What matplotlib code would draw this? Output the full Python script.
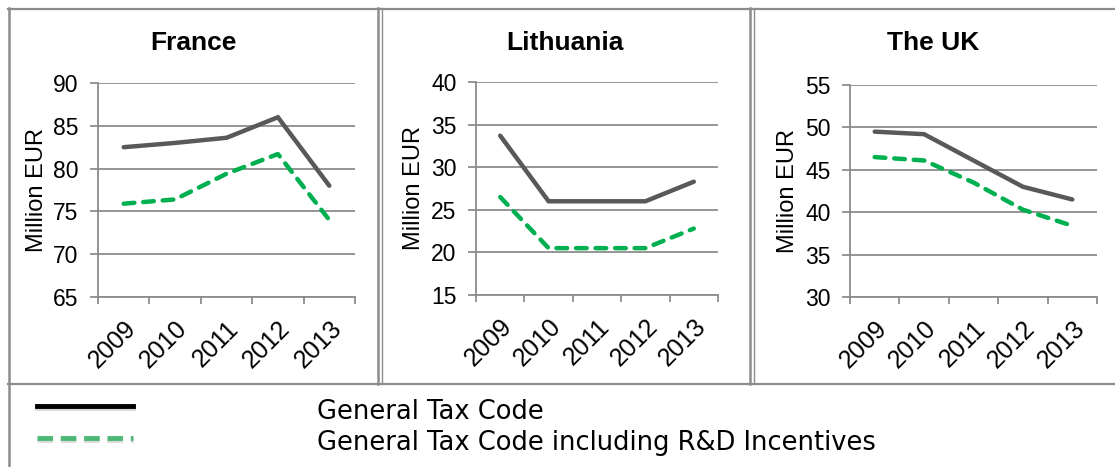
import matplotlib.pyplot as plt
import matplotlib.patheffects as pe
from matplotlib.lines import Line2D

years = ['2009', '2010', '2011', '2012', '2013']

countries = ['France', 'Lithuania', 'The UK']
general_fr = [82.5, 83.0, 83.6, 86.0, 78.0]
incent_fr = [75.9, 76.4, 79.4, 81.7, 74.0]
general_lt = [33.7, 26.0, 26.0, 26.0, 28.3]
incent_lt = [26.5, 20.5, 20.5, 20.5, 22.8]
general_uk = [49.5, 49.2, 46.1, 43.0, 41.5]
incent_uk = [46.5, 46.1, 43.5, 40.3, 38.4]
y_ranges = [(65, 90), (15, 40), (30, 55)]

legend_labels = ['General Tax Code', 'General Tax Code including R&D Incentives']

W, H = 1115, 467
GREY = '#595959'
GREEN = '#00B050'
FRAME = '#8c8c8c'

fig = plt.figure(figsize=(W / 100, H / 100), dpi=100)

# axes boxes in pixels: left, right, top, bottom
boxes = [(98, 355, 83, 297), (476, 718, 82, 295), (850, 1097, 85, 297)]
panel_centres = [193, 565, 933]
series = [(general_fr, incent_fr), (general_lt, incent_lt), (general_uk, incent_uk)]

for i, name in enumerate(countries):
    l, r, t, b = boxes[i]
    ax = fig.add_axes([l / W, 1 - b / H, (r - l) / W, (b - t) / H])
    gen, inc = series[i]
    x = range(len(years))
    ax.plot(x, gen, color=GREY, lw=3.2, solid_capstyle='round', solid_joinstyle='miter')
    ax.plot(x, inc, color=GREEN, lw=3.2, dashes=(2.4, 2.0), dash_capstyle='round')
    lo, hi = y_ranges[i]
    ax.set_ylim(lo, hi)
    ax.set_yticks(range(lo, hi + 1, 5))
    ax.set_xlim(-0.5, len(years) - 0.5)
    ax.set_xticks([k - 0.5 for k in range(len(years) + 1)])
    ax.set_xticklabels([])
    ax.set_xticks(list(x), minor=True)
    ax.set_xticklabels(years, minor=True, rotation=45, ha='right',
                       rotation_mode='anchor', fontsize=18, family='Liberation Sans')
    ax.tick_params(axis='x', which='minor', length=0, pad=14)
    ax.tick_params(axis='x', which='major', length=5, width=1.3, color=FRAME, direction='out')
    ax.tick_params(axis='y', length=6, width=1.3, color=FRAME, direction='out', pad=8,
                   labelsize=16.5)
    for lab in ax.get_yticklabels():
        lab.set_family('Liberation Sans')
    ax.grid(axis='y', color=FRAME, lw=1.3)
    ax.set_axisbelow(True)
    for s in ['top', 'right']:
        ax.spines[s].set_visible(False)
    for s in ['left', 'bottom']:
        ax.spines[s].set_color(FRAME)
        ax.spines[s].set_linewidth(1.3)
    ax.set_ylabel('Million EUR', fontsize=17, family='Liberation Sans', labelpad=4)
    fig.text(panel_centres[i] / W, 1 - 43 / H, name, ha='center', va='center',
             fontsize=19, fontweight='bold', family='Liberation Sans')


def fig_line(xs, ys, **kw):
    fig.add_artist(Line2D([v / W for v in xs], [1 - v / H for v in ys],
                          transform=fig.transFigure, **kw))


# table-like frame around the panels and legend
fig_line([8, W], [8.5, 8.5], color=FRAME, lw=1.6)
fig_line([8.5, 8.5], [8, H], color=FRAME, lw=1.8)
fig_line([8, W], [384, 384], color=FRAME, lw=1.6)
for xs in (377.5, 749.5):
    fig_line([xs, xs], [8, 384], color=FRAME, lw=1.8)
    fig_line([xs + 4, xs + 4], [8, 384], color=FRAME, lw=1.0)

# legend
shadow = [pe.SimpleLineShadow(offset=(0, -1.5), alpha=0.15, shadow_color='k'), pe.Normal()]
fig_line([37, 133], [406, 406], color='black', lw=3.5, path_effects=shadow)
fig_line([37, 133], [438, 438], color='#4db874', lw=3.5, dashes=(3.2, 1.6),
         path_effects=shadow)
fig.text(317 / W, 1 - 412 / H, legend_labels[0], ha='left', va='center',
         fontsize=18.5, family='DejaVu Sans')
fig.text(317 / W, 1 - 443 / H, legend_labels[1], ha='left', va='center',
         fontsize=18.5, family='DejaVu Sans')

fig.savefig('out.png', dpi=100, facecolor='white')
